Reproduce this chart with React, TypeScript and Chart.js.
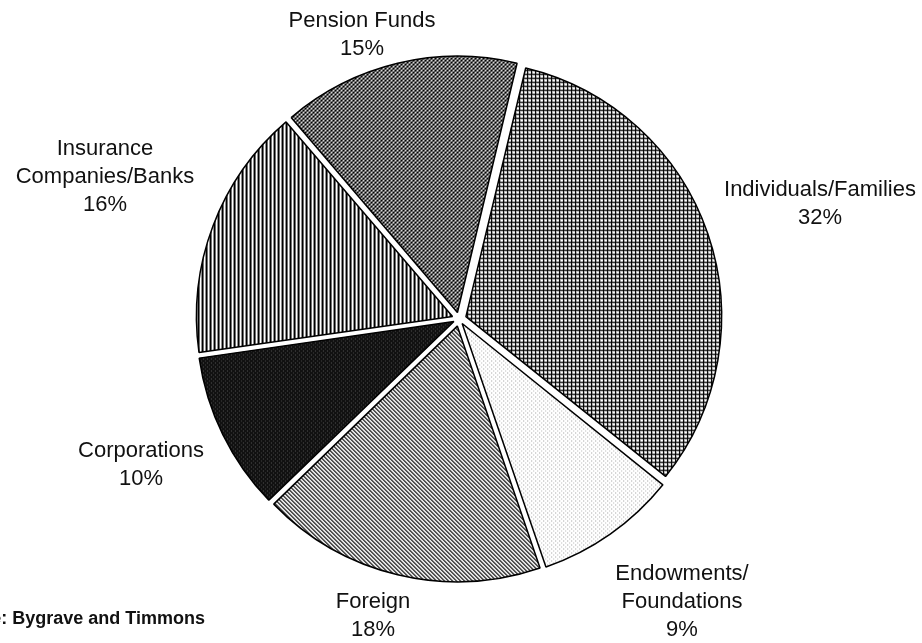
import React, { useEffect, useRef } from "react";
import { Chart, registerables } from "chart.js";

Chart.register(...registerables);

// ---- data ----
const categories = [
  "Individuals/Families",
  "Endowments/Foundations",
  "Foreign",
  "Corporations",
  "Insurance Companies/Banks",
  "Pension Funds",
];
const shares = [32, 9, 18, 10, 16, 15];
const labelNameLines = [
  ["Individuals/Families"],
  ["Endowments/", "Foundations"],
  ["Foreign"],
  ["Corporations"],
  ["Insurance", "Companies/Banks"],
  ["Pension Funds"],
];
const sourceText = "Source: Bygrave and Timmons";

// ---- layout / style ----
const patternKinds = ["grid", "lightdots", "diagonal", "darkdots", "vertical", "checker"];
const labelAnchors = [
  [820, 196],
  [682, 580],
  [373, 608],
  [141, 457],
  [105, 155],
  [362, 27],
];
const LINE_HEIGHT = 28;
const EXPLODE = 8;
const RADIUS = 255;

function makePattern(kind: string): CanvasPattern | string {
  const c = document.createElement("canvas");
  c.width = 4;
  c.height = 4;
  const g = c.getContext("2d");
  if (!g) return "#888";
  const px = (x: number, y: number, col: string) => {
    g.fillStyle = col;
    g.fillRect(x, y, 1, 1);
  };
  g.fillStyle = "#ffffff";
  g.fillRect(0, 0, 4, 4);
  if (kind === "grid") {
    g.fillStyle = "#b0b0b0";
    g.fillRect(0, 1, 4, 1);
    g.fillRect(1, 0, 1, 4);
    g.fillStyle = "#000";
    g.fillRect(0, 0, 4, 1);
    g.fillRect(0, 0, 1, 4);
  } else if (kind === "lightdots") {
    px(0, 0, "#9a9a9a");
    px(2, 2, "#b5b5b5");
  } else if (kind === "diagonal") {
    for (let y = 0; y < 4; y++)
      for (let x = 0; x < 4; x++) {
        const d = (((x - y) % 4) + 4) % 4;
        if (d === 0) px(x, y, "#000");
        else if (d === 1) px(x, y, "#6a6a6a");
      }
  } else if (kind === "darkdots") {
    g.fillStyle = "#111";
    g.fillRect(0, 0, 4, 4);
    px(0, 0, "#555");
    px(2, 2, "#444");
  } else if (kind === "vertical") {
    g.fillStyle = "#000";
    g.fillRect(0, 0, 2, 4);
  } else if (kind === "checker") {
    g.fillStyle = "#000";
    g.fillRect(0, 0, 2, 2);
    g.fillRect(2, 2, 2, 2);
    px(2, 0, "#444");
    px(0, 2, "#444");
  }
  const pat = g.createPattern(c, "repeat");
  return pat || "#888";
}

const labelPlugin = {
  id: "outsideLabels",
  afterDraw(chart: any) {
    const ctx = chart.ctx as CanvasRenderingContext2D;
    ctx.save();
    ctx.fillStyle = "#111";
    ctx.font = '22px "Liberation Sans", Arial, sans-serif';
    ctx.textAlign = "center";
    ctx.textBaseline = "alphabetic";
    shares.forEach((v, i) => {
      const lines = [...labelNameLines[i], `${v}%`];
      const [x, y] = labelAnchors[i];
      lines.forEach((t, j) => ctx.fillText(t, x, y + j * LINE_HEIGHT));
    });
    ctx.font = 'bold 18px "Liberation Sans", Arial, sans-serif';
    ctx.textAlign = "right";
    ctx.fillText(sourceText, 205, 624);
    ctx.restore();
  },
};

export default function App() {
  const ref = useRef<HTMLCanvasElement | null>(null);
  useEffect(() => {
    if (!ref.current) return;
    const total = shares.reduce((a, b) => a + b, 0);
    const chart = new Chart(ref.current, {
      type: "pie",
      data: {
        labels: categories,
        datasets: [
          {
            data: shares,
            backgroundColor: patternKinds.map(makePattern) as any,
            borderColor: "#000",
            borderWidth: 1.5,
            radius: RADIUS,
            clip: false as any,
            offset: ((c: any) => {
              const v = c.raw as number;
              const circ = (v / total) * Math.PI * 2;
              return (4 * EXPLODE) / (2 - Math.sin(Math.min(Math.PI, circ)));
            }) as any,
          } as any,
        ],
      },
      options: {
        responsive: false,
        animation: false,
        rotation: 13.5,
        layout: { padding: { left: 0, right: 4, top: 0, bottom: 5 } },
        plugins: {
          legend: { display: false },
          tooltip: { enabled: false },
        },
        events: [],
      },
      plugins: [labelPlugin],
    });
    return () => chart.destroy();
  }, []);
  return (
    <div style={{ position: "absolute", left: 0, top: 0, width: 922, height: 643, background: "#fff" }}>
      <canvas ref={ref} width={922} height={643} style={{ display: "block" }} />
    </div>
  );
}
